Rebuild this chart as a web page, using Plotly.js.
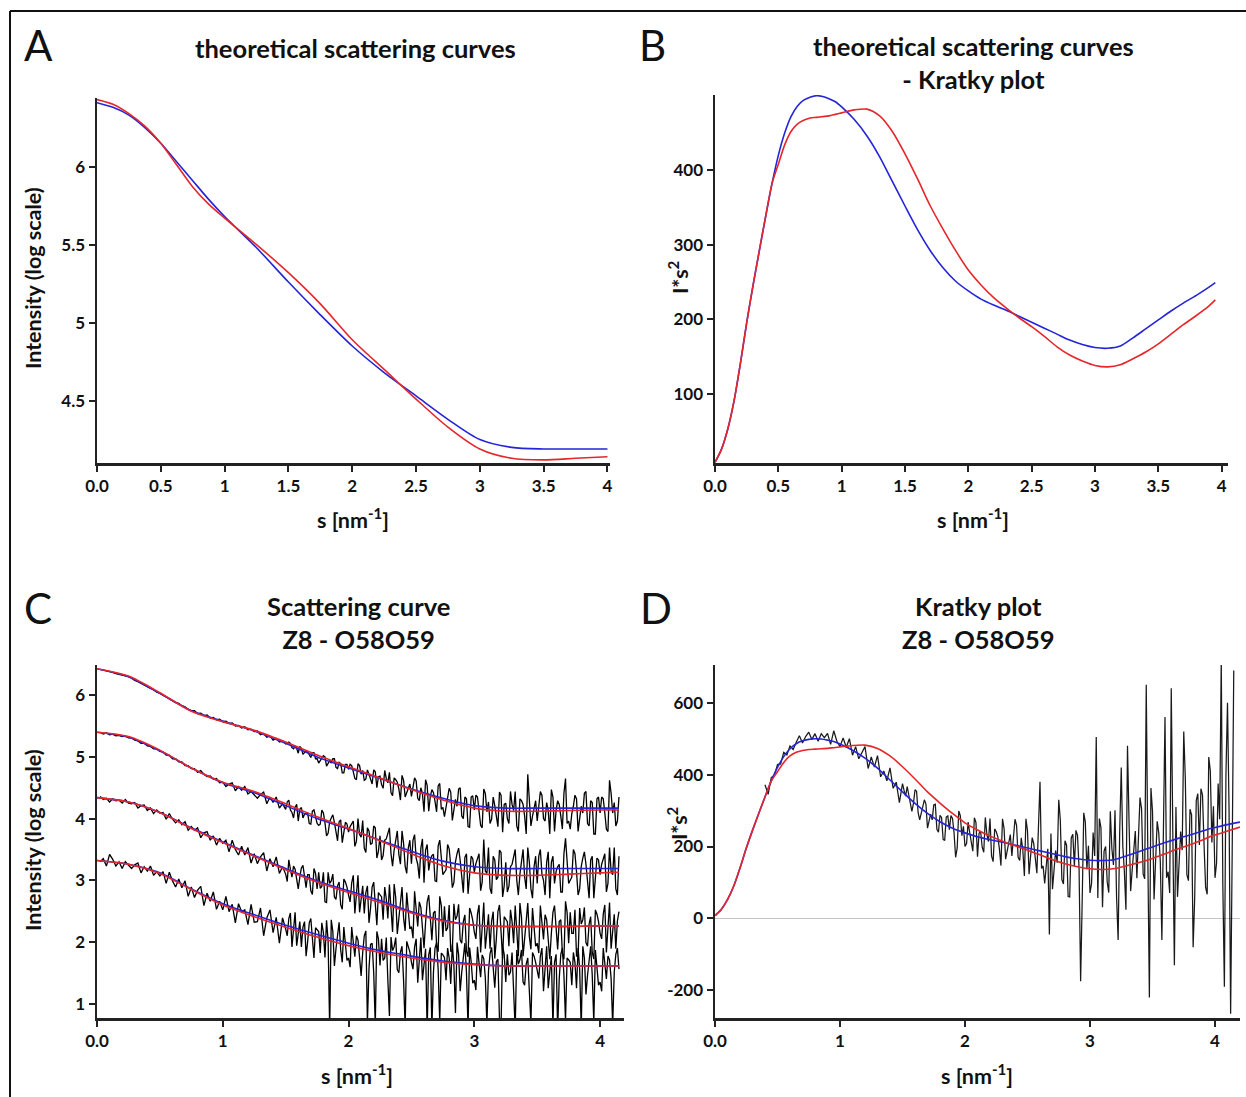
<!DOCTYPE html>
<html>
<head>
<meta charset="utf-8">
<script src="https://cdn.plot.ly/plotly-3.0.1.min.js"></script>
<style>html,body{margin:0;padding:0;background:#fff;}#chart{width:1246px;height:1097px;}</style>
</head>
<body>
<div id="chart"></div>
<script>
// ---------- Panel A: theoretical scattering curves (log intensity) ----------
const sA = [0, 0.125, 0.25, 0.375, 0.5, 0.625, 0.75, 0.875, 1.0, 1.25, 1.5, 1.75, 2.0, 2.25, 2.5, 2.75, 3.0, 3.25, 3.5, 3.75, 4.0];
const aBlue = [6.41, 6.38, 6.33, 6.25, 6.15, 6.03, 5.91, 5.79, 5.68, 5.48, 5.26, 5.05, 4.85, 4.68, 4.53, 4.38, 4.25, 4.20, 4.19, 4.19, 4.19];
const aRed  = [6.43, 6.40, 6.34, 6.26, 6.15, 6.01, 5.87, 5.76, 5.67, 5.50, 5.32, 5.12, 4.89, 4.70, 4.51, 4.33, 4.19, 4.13, 4.12, 4.13, 4.14];

// ---------- Panels B and D: Kratky fits (I*s^2) ----------
const sK = [0, 0.05, 0.1, 0.15, 0.2, 0.25, 0.3, 0.35, 0.4, 0.45, 0.5, 0.55, 0.6, 0.65, 0.7, 0.75, 0.8, 0.85, 0.9, 0.95, 1.0,
  1.1, 1.2, 1.3, 1.4, 1.5, 1.6, 1.7, 1.8, 1.9, 2.0, 2.1, 2.2, 2.3, 2.4, 2.5, 2.6, 2.7, 2.8, 2.9, 3.0,
  3.1, 3.2, 3.3, 3.4, 3.5, 3.6, 3.7, 3.8, 3.9, 3.95, 4.0, 4.1, 4.2];
const kBlue = [8, 25, 52, 90, 140, 195, 245, 292, 338, 382, 420, 450, 472, 486, 494, 498, 500, 499, 496, 492, 485,
  468, 446, 418, 385, 352, 320, 292, 269, 251, 238, 227, 219, 212, 204, 196, 188, 180, 172, 166, 162,
  161, 164, 175, 187, 199, 211, 222, 232, 243, 249, 253, 261, 268];
const kRed = [8, 25, 52, 90, 140, 195, 245, 292, 338, 382, 408, 434, 452, 462, 467, 470, 471, 472, 473, 475, 477,
  481, 482, 473, 452, 422, 388, 352, 321, 292, 266, 246, 229, 215, 202, 190, 177, 163, 152, 144, 138,
  136, 139, 147, 156, 167, 180, 193, 205, 218, 226, 232, 243, 254];
const sKEndB = 3.95; // panel B curves stop here

// ---------- Panel C: measured curves (4 offsets) and fits ----------
// measured s grid: 0.025 steps up to 1.5, 0.0125 steps after
const sData = [0.025,0.05,0.075,0.1,0.125,0.15,0.175,0.2,0.225,0.25,
0.275,0.3,0.325,0.35,0.375,0.4,0.425,0.45,0.475,0.5,
0.525,0.55,0.575,0.6,0.625,0.65,0.675,0.7,0.725,0.75,
0.775,0.8,0.825,0.85,0.875,0.9,0.925,0.95,0.975,1,
1.025,1.05,1.075,1.1,1.125,1.15,1.175,1.2,1.225,1.25,
1.275,1.3,1.325,1.35,1.375,1.4,1.425,1.45,1.475,1.5,
1.5125,1.525,1.5375,1.55,1.5625,1.575,1.5875,1.6,1.6125,1.625,1.6375,1.65,1.6625,1.675,1.6875,1.7,1.7125,1.725,1.7375,1.75,
1.7625,1.775,1.7875,1.8,1.8125,1.825,1.8375,1.85,1.8625,1.875,1.8875,1.9,1.9125,1.925,1.9375,1.95,1.9625,1.975,1.9875,2,
2.0125,2.025,2.0375,2.05,2.0625,2.075,2.0875,2.1,2.1125,2.125,2.1375,2.15,2.1625,2.175,2.1875,2.2,2.2125,2.225,2.2375,2.25,
2.2625,2.275,2.2875,2.3,2.3125,2.325,2.3375,2.35,2.3625,2.375,2.3875,2.4,2.4125,2.425,2.4375,2.45,2.4625,2.475,2.4875,2.5,
2.5125,2.525,2.5375,2.55,2.5625,2.575,2.5875,2.6,2.6125,2.625,2.6375,2.65,2.6625,2.675,2.6875,2.7,2.7125,2.725,2.7375,2.75,
2.7625,2.775,2.7875,2.8,2.8125,2.825,2.8375,2.85,2.8625,2.875,2.8875,2.9,2.9125,2.925,2.9375,2.95,2.9625,2.975,2.9875,3,
3.0125,3.025,3.0375,3.05,3.0625,3.075,3.0875,3.1,3.1125,3.125,3.1375,3.15,3.1625,3.175,3.1875,3.2,3.2125,3.225,3.2375,3.25,
3.2625,3.275,3.2875,3.3,3.3125,3.325,3.3375,3.35,3.3625,3.375,3.3875,3.4,3.4125,3.425,3.4375,3.45,3.4625,3.475,3.4875,3.5,
3.5125,3.525,3.5375,3.55,3.5625,3.575,3.5875,3.6,3.6125,3.625,3.6375,3.65,3.6625,3.675,3.6875,3.7,3.7125,3.725,3.7375,3.75,
3.7625,3.775,3.7875,3.8,3.8125,3.825,3.8375,3.85,3.8625,3.875,3.8875,3.9,3.9125,3.925,3.9375,3.95,3.9625,3.975,3.9875,4,
4.0125,4.025,4.0375,4.05,4.0625,4.075,4.0875,4.1,4.1125,4.125,4.1375,4.15];

const c1Data = [6.42,6.41,6.39,6.38,6.37,6.35,6.34,6.32,6.32,6.30,
6.28,6.24,6.22,6.19,6.17,6.13,6.11,6.09,6.05,6.03,
6.00,5.98,5.94,5.92,5.88,5.87,5.83,5.81,5.77,5.75,
5.75,5.70,5.71,5.67,5.68,5.63,5.64,5.60,5.61,5.57,
5.58,5.54,5.55,5.50,5.51,5.47,5.49,5.44,5.45,5.41,
5.42,5.36,5.38,5.32,5.34,5.27,5.30,5.24,5.26,5.21,
5.22,5.24,5.22,5.15,5.13,5.17,5.14,5.06,5.17,5.14,5.04,5.08,5.10,5.08,5.03,4.99,5.07,5.07,4.97,4.97,
4.90,4.95,4.98,5.02,5.00,4.85,4.89,4.94,4.90,4.97,4.97,4.83,4.81,4.91,4.89,4.74,4.74,4.88,4.88,4.80,
4.88,4.86,4.76,4.65,4.63,4.89,4.86,4.72,4.78,4.62,4.64,4.79,4.72,4.63,4.56,4.79,4.76,4.50,4.68,4.69,
4.55,4.49,4.78,4.65,4.58,4.75,4.42,4.37,4.66,4.63,4.59,4.48,4.30,4.70,4.62,4.35,4.43,4.51,4.56,4.36,
4.52,4.66,4.61,4.33,4.29,4.50,4.40,4.11,4.63,4.54,4.12,4.36,4.47,4.42,4.28,4.11,4.53,4.57,4.15,4.18,
4.03,4.21,4.34,4.49,4.43,3.97,4.14,4.31,4.20,4.48,4.50,4.04,4.00,4.35,4.32,3.87,3.86,4.35,4.37,4.14,
4.38,4.35,4.12,3.89,3.85,4.48,4.41,4.11,4.27,3.92,3.99,4.35,4.21,4.02,3.87,4.43,4.38,3.78,4.23,4.25,
4.00,3.92,4.44,4.23,4.13,4.44,3.88,3.79,4.32,4.29,4.23,4.04,3.75,4.72,4.35,3.88,4.04,4.20,4.29,3.96,
4.23,4.44,4.38,4.00,3.96,4.26,4.13,3.75,4.47,4.35,3.79,4.13,4.29,4.23,4.04,3.83,4.41,4.65,3.92,3.96,
3.83,4.08,4.20,4.38,4.32,3.79,4.00,4.20,4.09,4.41,4.44,3.92,3.88,4.29,4.26,3.75,3.75,4.32,4.35,4.09,
4.35,4.32,4.09,3.83,3.79,4.62,4.41,4.09,4.26,3.88,3.96,4.35];

const c2Data = [5.40,5.37,5.39,5.36,5.37,5.34,5.35,5.33,5.34,5.31,
5.31,5.27,5.26,5.22,5.22,5.18,5.17,5.13,5.13,5.09,
5.08,5.03,5.03,4.97,4.97,4.92,4.92,4.86,4.86,4.81,
4.81,4.75,4.78,4.72,4.68,4.69,4.64,4.65,4.58,4.59,
4.52,4.56,4.58,4.45,4.52,4.46,4.52,4.40,4.44,4.39,
4.33,4.39,4.43,4.24,4.35,4.26,4.35,4.17,4.24,4.15,
4.27,4.30,4.14,4.10,4.01,4.18,4.23,3.96,4.15,4.18,4.01,4.07,4.09,4.09,3.92,3.91,4.12,4.14,4.03,3.92,
3.89,3.91,4.14,4.09,3.93,3.72,3.76,3.95,4.01,4.06,3.94,3.75,3.64,3.95,3.98,3.61,3.78,3.94,3.91,3.78,
3.87,3.92,3.96,3.55,3.63,4.00,3.74,3.70,3.97,3.52,3.45,3.85,3.80,3.58,3.60,3.88,3.85,3.36,3.47,3.72,
3.33,3.40,3.65,3.67,3.75,3.85,3.43,3.23,3.49,3.67,3.80,3.42,3.26,3.80,3.60,3.23,3.11,3.52,3.65,3.27,
3.65,3.74,3.36,3.26,3.03,3.52,3.67,2.96,3.49,3.58,3.16,3.33,3.40,3.42,2.99,2.98,3.56,3.65,3.38,3.09,
3.13,3.17,3.58,3.51,3.24,2.88,2.96,3.30,3.43,3.52,3.32,2.98,2.80,3.37,3.43,2.78,3.10,3.39,3.35,3.13,
3.27,3.37,3.43,2.83,2.97,3.66,3.15,3.11,3.53,2.87,2.78,3.39,3.33,3.01,3.05,3.49,3.45,2.73,2.91,3.29,
2.81,2.90,3.22,3.26,3.36,3.50,3.00,2.76,3.10,3.33,3.50,3.05,2.86,3.53,3.29,2.86,2.71,3.22,3.39,2.95,
3.39,3.50,3.10,3.00,2.76,3.29,3.46,2.71,3.29,3.39,2.95,3.14,3.22,3.26,2.81,2.81,3.43,3.68,3.26,2.95,
3.00,3.05,3.50,3.43,3.14,2.76,2.86,3.22,3.36,3.46,3.26,2.90,2.71,3.33,3.39,2.71,3.05,3.36,3.33,3.09,
3.26,3.36,3.43,2.81,2.95,3.53,3.14,3.09,3.53,2.86,2.76,3.39];

const c3Data = [4.36,4.31,4.33,4.27,4.32,4.29,4.30,4.25,4.31,4.25,
4.24,4.26,4.17,4.21,4.22,4.13,4.17,4.08,4.14,4.09,
4.10,3.99,4.08,3.99,3.93,3.98,3.90,3.95,3.81,3.87,
3.81,3.85,3.69,3.77,3.79,3.65,3.72,3.57,3.68,3.60,
3.65,3.46,3.65,3.50,3.41,3.55,3.41,3.53,3.28,3.43,
3.27,3.38,3.45,3.15,3.35,3.22,3.38,3.11,3.22,3.10,
2.98,3.33,3.18,3.05,3.23,3.18,3.02,2.86,3.05,3.20,3.24,3.05,2.88,3.09,3.09,2.83,2.77,3.19,3.11,2.86,
3.13,2.87,2.90,3.13,2.65,2.64,3.13,2.95,2.99,3.10,2.73,2.69,2.91,2.97,2.60,2.53,3.02,2.97,2.89,2.76,
2.65,2.96,3.08,2.46,2.75,3.08,2.48,2.68,2.91,2.46,2.80,2.91,2.31,2.55,2.89,2.97,2.57,2.27,2.80,2.76,
2.73,2.36,2.89,2.70,2.38,2.93,2.56,2.16,2.94,2.72,2.13,2.42,2.69,2.89,2.39,2.18,2.80,2.54,2.21,2.25,
2.06,2.82,2.51,2.25,2.65,2.56,2.23,1.90,2.32,2.65,2.76,2.35,2.03,2.47,2.50,1.95,1.84,2.74,2.59,2.08,
2.58,2.18,2.23,2.60,1.85,1.85,2.62,2.36,2.42,2.61,2.03,1.98,2.33,2.44,1.85,1.76,2.55,2.47,2.35,2.16,
2.05,2.45,2.60,1.83,2.21,2.64,1.89,2.15,2.45,1.89,2.34,2.49,1.73,2.05,2.49,2.60,2.10,1.73,2.41,2.37,
2.33,1.93,2.52,2.33,1.98,2.59,2.20,1.77,2.63,2.40,1.77,2.09,2.40,2.63,2.09,1.88,2.55,2.29,1.93,1.98,
1.82,2.59,2.29,2.04,2.44,2.36,2.04,1.72,2.14,2.48,2.59,2.20,1.88,2.33,2.36,1.82,1.72,2.66,2.48,1.98,
2.48,2.14,2.14,2.52,1.77,1.77,2.55,2.29,2.36,2.56,1.99,1.93,2.29,2.41,1.83,1.72,2.52,2.45,2.33,2.14,
2.05,2.45,2.60,1.83,2.21,2.64,1.89,2.15,2.45,1.89,2.34,2.49];

const c4Data = [3.30,3.35,3.23,3.42,3.34,3.23,3.30,3.19,3.30,3.24,
3.19,3.25,3.28,3.12,3.22,3.15,3.23,3.08,3.14,3.07,
3.14,2.95,3.13,2.99,2.89,3.02,2.88,2.99,2.74,2.89,
2.72,2.84,2.90,2.59,2.79,2.66,2.81,2.53,2.66,2.52,
2.74,2.49,2.61,2.31,2.62,2.49,2.52,2.28,2.61,2.32,
2.33,2.55,2.10,2.39,2.52,2.15,2.40,1.98,2.39,2.21,
2.10,2.38,2.47,1.92,2.19,2.48,1.94,2.13,2.33,1.92,2.24,2.33,1.77,2.01,2.31,2.38,2.02,1.74,2.23,2.20,
2.17,1.82,2.31,2.15,1.75,2.35,2.02,0.60,2.36,2.17,1.61,1.89,2.15,2.32,1.87,1.67,2.24,2.02,1.70,1.74,
1.59,2.24,1.99,1.76,2.10,2.03,1.75,1.45,1.83,2.10,2.18,0.70,1.57,1.96,1.98,1.50,0.65,2.17,2.05,1.62,
2.05,1.70,1.74,2.07,1.38,0.80,2.08,1.86,1.92,2.07,1.55,1.50,1.83,1.93,1.38,0.62,2.01,1.94,1.84,1.67,
1.56,1.92,2.05,1.34,1.70,2.07,1.38,1.64,1.89,0.55,1.79,1.91,0.60,1.51,1.90,1.99,1.55,0.70,1.82,1.79,
1.75,1.38,1.90,1.74,1.32,1.96,1.62,0.85,1.99,1.79,1.20,1.51,1.79,1.98,1.50,0.60,1.91,1.68,1.33,1.38,
1.22,1.92,1.66,1.43,1.79,1.73,1.42,0.65,1.53,1.81,1.91,1.57,1.26,1.68,1.72,0.75,0.62,1.93,1.80,1.35,
1.80,1.46,1.51,1.83,1.15,0.58,1.87,1.64,1.71,1.87,1.35,1.30,1.64,1.74,1.20,0.68,1.83,1.77,1.67,1.51,
1.41,1.77,1.90,1.20,1.56,1.93,1.25,1.51,1.77,0.62,1.67,1.80,0.58,1.40,1.80,1.90,1.46,0.72,1.74,1.71,
1.67,1.30,1.83,1.67,1.25,1.90,1.56,0.60,1.93,1.74,1.15,1.46,1.74,1.93,1.46,0.70,1.87,1.64,1.30,1.35,
1.20,1.90,1.64,1.40,1.77,1.71,1.41,0.65,1.51,1.80,1.90,1.56];

const sCfit = [0, 0.25, 0.5, 0.75, 1.0, 1.25, 1.5, 1.75, 2.0, 2.25, 2.5, 2.75, 3.0, 3.25, 3.5, 3.75, 4.0, 4.15];
const c1Blue = [6.43, 6.30, 6.03, 5.75, 5.58, 5.42, 5.22, 5.00, 4.82, 4.65, 4.48, 4.33, 4.21, 4.17, 4.17, 4.17, 4.17, 4.17];
const c1Red  = [6.43, 6.31, 6.04, 5.74, 5.57, 5.43, 5.24, 5.03, 4.84, 4.66, 4.47, 4.30, 4.17, 4.12, 4.12, 4.13, 4.14, 4.14];
const c2Blue = [5.40, 5.32, 5.10, 4.82, 4.58, 4.42, 4.21, 4.00, 3.83, 3.65, 3.47, 3.31, 3.22, 3.19, 3.19, 3.19, 3.19, 3.19];
const c2Red  = [5.40, 5.33, 5.11, 4.82, 4.59, 4.44, 4.24, 4.03, 3.84, 3.64, 3.43, 3.24, 3.12, 3.08, 3.08, 3.10, 3.12, 3.13];
const c3Blue = [4.34, 4.27, 4.10, 3.85, 3.62, 3.40, 3.19, 2.99, 2.83, 2.67, 2.49, 2.35, 2.27, 2.25, 2.25, 2.25, 2.26, 2.26];
const c3Red  = [4.34, 4.27, 4.10, 3.84, 3.61, 3.39, 3.17, 2.97, 2.80, 2.64, 2.47, 2.34, 2.27, 2.25, 2.25, 2.25, 2.26, 2.26];
const c4Blue = [3.32, 3.26, 3.12, 2.86, 2.62, 2.44, 2.27, 2.12, 1.98, 1.86, 1.77, 1.69, 1.64, 1.61, 1.61, 1.61, 1.61, 1.61];
const c4Red  = [3.32, 3.26, 3.11, 2.85, 2.60, 2.41, 2.24, 2.08, 1.94, 1.83, 1.74, 1.67, 1.63, 1.61, 1.61, 1.61, 1.61, 1.61];

// ---------- Panel D: measured Kratky data (same s grid, starting at s = 0.4) ----------
const dStartS = 0.4;
const dData = [372,345,392,398,428,430,462,455,480,470,
490,508,488,506,518,498,514,493,514,503,
515,484,522,493,478,502,476,500,454,478,
444,463,478,417,449,421,453,394,410,383,
419,362,379,322,375,
356,340,367,344,313,298,320,358,354,294,
274,292,307,330,318,251,271,290,274,316,318,248,240,287,281,220,217,282,285,247,
286,278,238,170,196,299,286,230,256,200,208,268,239,210,187,280,267,172,237,242,
198,184,281,234,214,278,173,158,249,241,227,194,147,277,250,165,190,215,233,174,
221,276,259,170,161,224,191,118,277,244,123,186,225,208,167,126,253,380,139,146,
97,151,194,-45,236,81,135,189,155,330,274,108,96,216,204,61,60,224,234,145,
245,231,140,-175,48,294,268,137,202,71,97,239,174,505,57,278,252,31,187,200,
102,72,298,194,149,301,60,-60,242,420,201,130,24,480,267,76,135,199,243,112,
219,336,305,124,110,650,179,-220,363,298,53,185,270,238,158,-60,342,560,113,130,
71,640,236,-130,310,60,151,242,190,520,390,122,105,304,288,-80,56,328,347,204,
361,343,204,86,67,449,410,211,312,113,154,375,276,720,98,-190,400,600,302,-265,
184,690];

// ---------- tick labels ----------
const ticksA_x = [0, 0.5, 1, 1.5, 2, 2.5, 3, 3.5, 4];
const ticksA_xt = ['0.0', '0.5', '1', '1.5', '2', '2.5', '3', '3.5', '4'];
const ticksA_y = [4.5, 5, 5.5, 6];
const ticksA_yt = ['4.5', '5', '5.5', '6'];
const ticksB_y = [100, 200, 300, 400];
const ticksCD_x = [0, 1, 2, 3, 4];
const ticksCD_xt = ['0.0', '1', '2', '3', '4'];
const ticksC_y = [1, 2, 3, 4, 5, 6];
const ticksD_y = [-200, 0, 200, 400, 600];

// ---------- build ----------
const BLUE = '#2424d8', RED = '#e5262b', DATA = '#000000';
const W = 1246, H = 1097;
const px = x => x / W, py = y => 1 - y / H;

function fit(x, y, color, xa, ya) {
  return {x: x, y: y, xaxis: xa, yaxis: ya, mode: 'lines', type: 'scatter',
    line: {color: color, width: 1.6, shape: 'spline', smoothing: 0.8}, hoverinfo: 'skip'};
}
function data(x, y, xa, ya, w, op) {
  return {x: x, y: y, xaxis: xa, yaxis: ya, mode: 'lines', type: 'scatter',
    line: {color: DATA, width: w}, opacity: op, hoverinfo: 'skip'};
}

const bIdx = sK.filter(s => s <= sKEndB).length;
const dIdx = sData.findIndex(s => Math.abs(s - dStartS) < 1e-9);

const traces = [
  fit(sA, aBlue, BLUE, 'x', 'y'),
  fit(sA, aRed, RED, 'x', 'y'),
  fit(sK.slice(0, bIdx), kBlue.slice(0, bIdx), BLUE, 'x2', 'y2'),
  fit(sK.slice(0, bIdx), kRed.slice(0, bIdx), RED, 'x2', 'y2'),
  data(sData, c1Data, 'x3', 'y3', 1.3, 1),
  data(sData, c2Data, 'x3', 'y3', 1.3, 1),
  data(sData, c3Data, 'x3', 'y3', 1.3, 1),
  data(sData, c4Data, 'x3', 'y3', 1.3, 1),
  fit(sCfit, c1Blue, BLUE, 'x3', 'y3'),
  fit(sCfit, c2Blue, BLUE, 'x3', 'y3'),
  fit(sCfit, c3Blue, BLUE, 'x3', 'y3'),
  fit(sCfit, c4Blue, BLUE, 'x3', 'y3'),
  fit(sCfit, c1Red, RED, 'x3', 'y3'),
  fit(sCfit, c2Red, RED, 'x3', 'y3'),
  fit(sCfit, c3Red, RED, 'x3', 'y3'),
  fit(sCfit, c4Red, RED, 'x3', 'y3'),
  data(sData.slice(dIdx), dData, 'x4', 'y4', 1.25, 0.9),
  fit(sK, kBlue, BLUE, 'x4', 'y4'),
  fit(sK, kRed, RED, 'x4', 'y4')
];

const FONT = 'Lato, "Open Sans", sans-serif';
const tickfont = {family: FONT, size: 17, color: '#111', weight: 'bold'};
function axis(domain, range, tv, tt, anchor) {
  return {domain: domain, range: range, anchor: anchor, tickvals: tv, ticktext: tt,
    showline: true, linecolor: '#222', linewidth: 2.5, ticks: 'outside', ticklen: 6, tickwidth: 2,
    tickcolor: '#222', showgrid: false, zeroline: false, tickfont: tickfont, fixedrange: true};
}

const layout = {
  width: W, height: H, margin: {l: 0, r: 0, t: 0, b: 0},
  paper_bgcolor: '#fff', plot_bgcolor: '#fff', showlegend: false,
  font: {family: FONT, size: 16, color: '#111'},
  xaxis:  axis([px(97), px(610)], [0, 4.02], ticksA_x, ticksA_xt, 'y'),
  yaxis:  axis([py(463), py(98)], [4.10, 6.44], ticksA_y, ticksA_yt, 'x'),
  xaxis2: axis([px(715), px(1228)], [0, 4.05], ticksA_x, ticksA_xt, 'y2'),
  yaxis2: axis([py(463), py(95)], [7, 501], ticksB_y, ticksB_y.map(String), 'x2'),
  xaxis3: axis([px(97), px(624)], [0, 4.19], ticksCD_x, ticksCD_xt, 'y3'),
  yaxis3: axis([py(1018), py(665)], [0.767, 6.49], ticksC_y, ticksC_y.map(String), 'x3'),
  xaxis4: axis([px(715), px(1240)], [0, 4.2], ticksCD_x, ticksCD_xt, 'y4'),
  yaxis4: Object.assign(axis([py(1018), py(665)], [-277, 705], ticksD_y, ticksD_y.map(String), 'x4'),
           {zeroline: true, zerolinecolor: '#c4c4c4', zerolinewidth: 1.5}),
  shapes: [
    {type: 'line', xref: 'paper', yref: 'paper', x0: px(10), x1: 1, y0: py(11), y1: py(11), line: {color: '#111', width: 2}},
    {type: 'line', xref: 'paper', yref: 'paper', x0: px(10), x1: px(10), y0: py(11), y1: 0, line: {color: '#111', width: 2}}
  ],
  annotations: []
};

function ann(text, x, y, size, angle) {
  layout.annotations.push({text: text, xref: 'paper', yref: 'paper', x: px(x), y: py(y),
    xanchor: 'center', yanchor: 'middle', showarrow: false, textangle: angle || 0,
    font: {family: FONT, size: size, color: '#111'}});
}
// panel letters
ann('A', 38, 45, 42); ann('B', 652, 45, 42);
ann('C', 38, 608, 42); ann('D', 656, 608, 42);
// panel titles
ann('<b>theoretical scattering curves</b>', 355, 48, 25.5);
ann('<b>theoretical scattering curves<br>- Kratky plot</b>', 973, 62, 25.5);
ann('<b>Scattering curve<br>Z8 - O58O59</b>', 358, 622, 25.5);
ann('<b>Kratky plot<br>Z8 - O58O59</b>', 978, 622, 25.5);
// axis titles
ann('<b>s [nm<sup>-1</sup>]</b>', 353, 518, 21.5);
ann('<b>s [nm<sup>-1</sup>]</b>', 973, 518, 21.5);
ann('<b>s [nm<sup>-1</sup>]</b>', 357, 1074, 21.5);
ann('<b>s [nm<sup>-1</sup>]</b>', 977, 1074, 21.5);
ann('<b>Intensity (log scale)</b>', 33, 278, 21.5, -90);
ann('<b>Intensity (log scale)</b>', 33, 840, 21.5, -90);
ann('<b>I*s<sup>2</sup></b>', 679, 277, 21.5, -90);
ann('<b>I*s<sup>2</sup></b>', 677, 823, 21.5, -90);

Plotly.newPlot('chart', traces, layout, {displayModeBar: false, staticPlot: true});
</script>
</body>
</html>
